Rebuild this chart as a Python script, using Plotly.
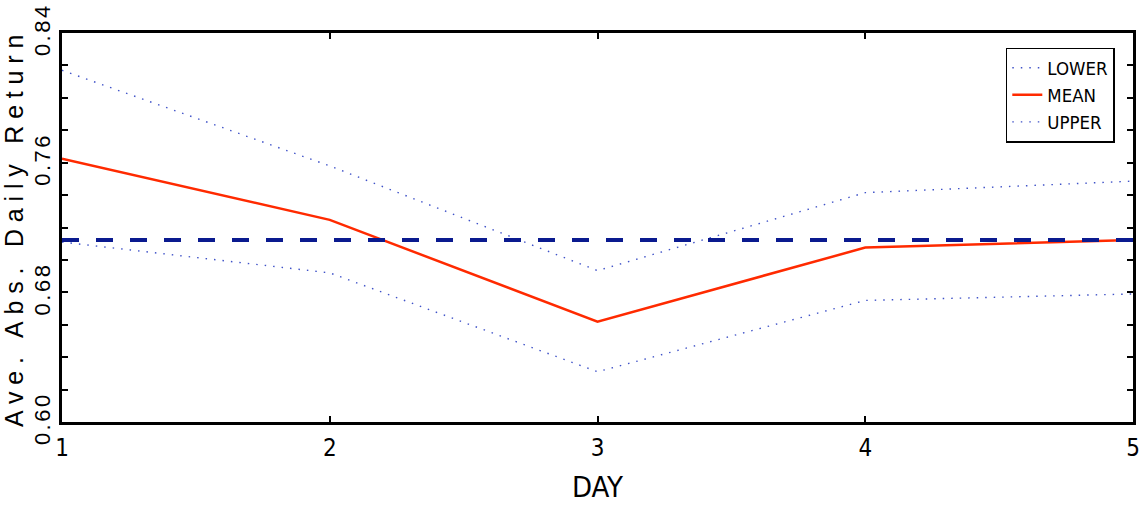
import plotly.graph_objects as go

# ---- data ----
days = [1, 2, 3, 4, 5]
lower = [0.711, 0.692, 0.631, 0.675, 0.679]
mean = [0.7625, 0.7247, 0.6619, 0.7076, 0.7123]
upper = [0.817, 0.758, 0.6934, 0.7415, 0.7486]
ref_level = 0.7123
ref_x = [1, 5]

y_tick_vals = [0.60, 0.62, 0.64, 0.66, 0.68, 0.70, 0.72, 0.74, 0.76, 0.78, 0.80, 0.82, 0.84]
y_tick_text = ["0.60", "", "", "", "0.68", "", "", "", "0.76", "", "", "", "0.84"]
x_tick_vals = [1, 2, 3, 4, 5]
x_tick_text = ["1", "2", "3", "4", "5"]

NARROW = "Liberation Sans Narrow, DejaVu Sans Condensed, Arial Narrow, sans-serif"
WIDE = "Liberation Sans, Arial, Helvetica, sans-serif"

DOT_COLOR = "#3f52c8"
RED = "#ff2a00"
NAVY = "#0a1a8f"

fig = go.Figure()
fig.add_trace(go.Scatter(x=days, y=lower, mode="lines", name="LOWER",
                         line=dict(color=DOT_COLOR, width=1.4, dash="1.5px,7px")))
fig.add_trace(go.Scatter(x=days, y=mean, mode="lines", name="MEAN",
                         line=dict(color=RED, width=2.5)))
fig.add_trace(go.Scatter(x=days, y=upper, mode="lines", name="UPPER",
                         line=dict(color=DOT_COLOR, width=1.4, dash="1.5px,7px")))
fig.add_trace(go.Scatter(x=ref_x, y=[ref_level, ref_level], mode="lines",
                         showlegend=False, hoverinfo="skip",
                         line=dict(color=NAVY, width=4, dash="17px,17px")))

fig.update_layout(
    width=1147, height=506,
    margin=dict(l=62, r=14, t=33, b=84, autoexpand=False),
    paper_bgcolor="white", plot_bgcolor="white",
    showlegend=True,
    legend=dict(x=0.983, xanchor="right", y=0.962, yanchor="top",
                bordercolor="black", borderwidth=1.5, bgcolor="white",
                font=dict(family=NARROW, size=18.5, color="black"),
                traceorder="normal"),
)

fig.update_xaxes(
    range=[1, 5], tickvals=x_tick_vals, ticktext=x_tick_text,
    showgrid=False, zeroline=False, automargin=False,
    showline=True, linecolor="black", linewidth=3, mirror="ticks",
    ticks="inside", ticklen=6, tickwidth=2, tickcolor="black",
    ticklabelstandoff=2,
    tickfont=dict(family=NARROW, size=24, color="black"),
    title=dict(text="DAY", font=dict(family=NARROW, size=29, color="black"), standoff=16),
)
fig.update_yaxes(
    range=[0.60, 0.84], tickvals=y_tick_vals, ticktext=y_tick_text,
    showgrid=False, zeroline=False, automargin=False,
    showline=True, linecolor="black", linewidth=3, mirror="ticks",
    ticks="inside", ticklen=6, tickwidth=2, tickcolor="black",
    tickangle=-90,
    tickfont=dict(family=WIDE, size=22, color="black"),
    title=dict(text="Ave. Abs. Daily Return", font=dict(family=WIDE, size=25, color="black"), standoff=6),
)

post = """
var gd = document.getElementById('{plot_id}');
function spacing(){
  gd.querySelectorAll('.ytitle').forEach(function(t){ t.style.letterSpacing='6.8px'; });
  gd.querySelectorAll('.ytick text').forEach(function(t){ t.style.letterSpacing='2.5px'; });
}
spacing();
gd.on('plotly_afterplot', spacing);
"""

fig.write_html("out.html", post_script=post)
